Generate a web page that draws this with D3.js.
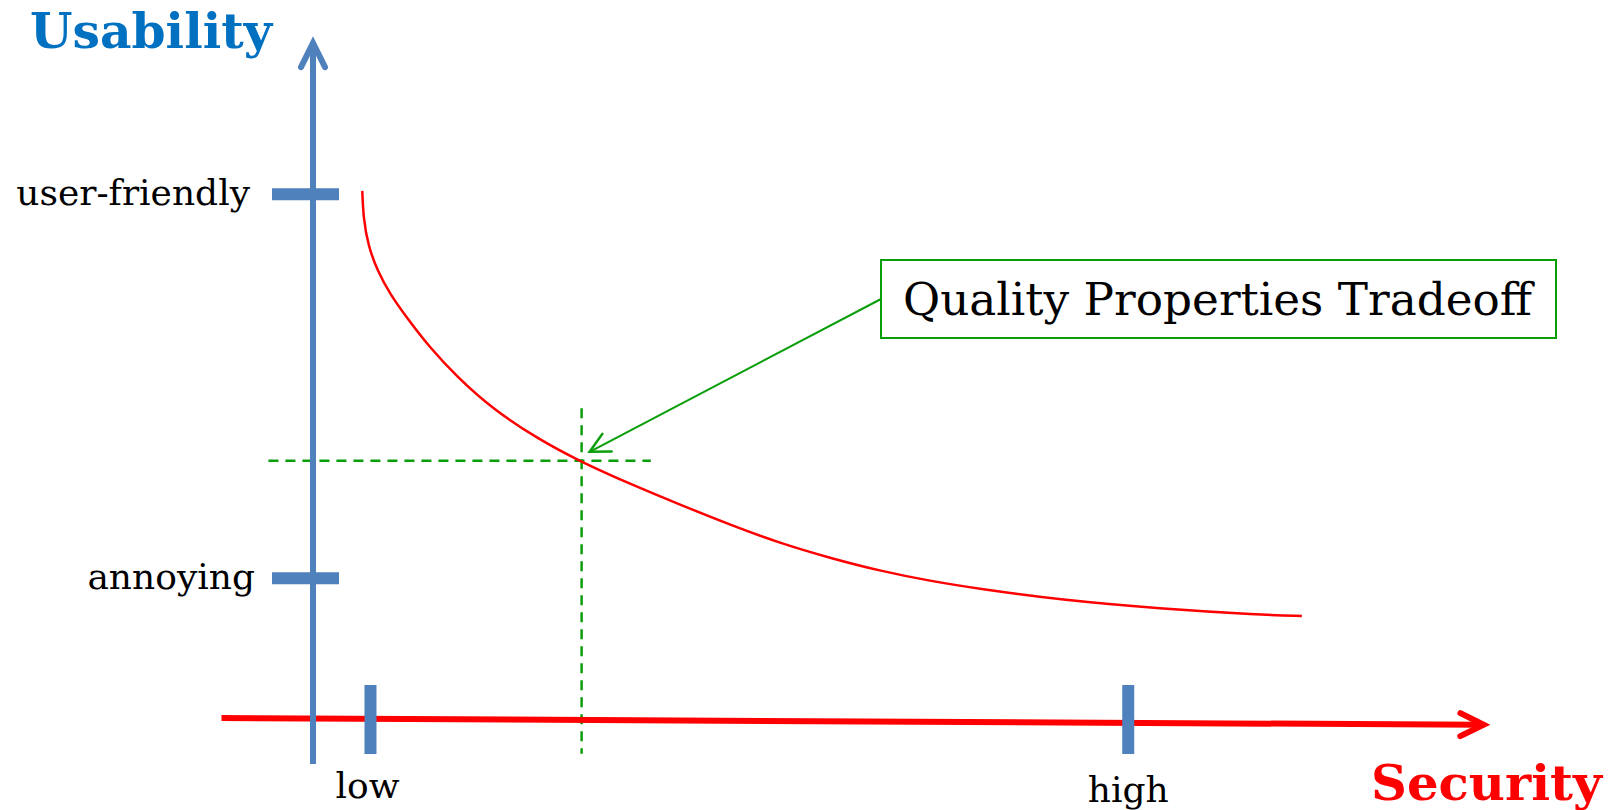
<!DOCTYPE html>
<html>
<head>
<meta charset="utf-8">
<script src="https://cdn.jsdelivr.net/npm/d3@7"></script>
<style>
  html, body { margin: 0; padding: 0; background: #ffffff; }
  svg { display: block; }
  text { font-family: "DejaVu Serif", serif; }
</style>
</head>
<body>
<svg id="chart" width="1608" height="810"></svg>
<script>
// Security (x) vs usability (y) tradeoff curve
const curveSecurity  = [0.42, 0.43, 0.47, 0.55, 0.66, 0.80, 0.99, 1.23, 1.53, 1.93, 2.29, 2.70, 3.13, 3.56, 3.98, 4.41, 4.83, 5.26, 5.69, 6.37, 7.22, 8.07, 8.43];
const curveUsability = [7.81, 7.40, 7.00, 6.62, 6.27, 5.93, 5.50, 5.05, 4.58, 4.12, 3.79, 3.47, 3.16, 2.86, 2.59, 2.37, 2.18, 2.03, 1.91, 1.75, 1.62, 1.53, 1.51];

// Named ticks on each axis
const usabilityTickLabels = ["user-friendly", "annoying"];
const usabilityTickValues = [7.76, 2.07];
const securityTickLabels  = ["low", "high"];
const securityTickValues  = [0.49, 6.95];

// Chosen operating point on the curve
const tradeoffPoint = [2.29, 3.81];
const tradeoffLabel = "Quality Properties Tradeoff";

// Axis extents (data units)
const usabilityAxisRange = [-0.68, 10];
const securityAxisStart  = [-0.78, 0];
const securityAxisEnd    = [9.98, -0.10];
const guideSecurityRange  = [-0.38, 2.88];
const guideUsabilityRange = [-0.53, 4.59];

const svg = d3.select("#chart");
const x = d3.scaleLinear().domain([0, 10]).range([313, 1486]);
const y = d3.scaleLinear().domain([0, 10]).range([718, 43]);

const BLUE = "#4F81BD";
const RED = "#FF0000";
const GREEN = "#0A9E0A";

// Dashed guides through the tradeoff point
svg.append("line")
  .attr("x1", x(guideSecurityRange[0])).attr("x2", x(guideSecurityRange[1]))
  .attr("y1", y(tradeoffPoint[1])).attr("y2", y(tradeoffPoint[1]))
  .attr("stroke", GREEN).attr("stroke-width", 2.5).attr("stroke-dasharray", "10,7");
svg.append("line")
  .attr("x1", x(tradeoffPoint[0])).attr("x2", x(tradeoffPoint[0]))
  .attr("y1", y(guideUsabilityRange[1])).attr("y2", y(guideUsabilityRange[0]))
  .attr("stroke", GREEN).attr("stroke-width", 2.5).attr("stroke-dasharray", "10,7");

// Security axis (red) with open arrowhead
const sx0 = x(securityAxisStart[0]), sy0 = y(securityAxisStart[1]);
const sx1 = x(securityAxisEnd[0]),   sy1 = y(securityAxisEnd[1]);
svg.append("line")
  .attr("x1", sx0).attr("y1", sy0).attr("x2", sx1 - 3).attr("y2", sy1)
  .attr("stroke", RED).attr("stroke-width", 6);

// Usability axis (blue) with open arrowhead
const ux = x(0), uyTop = y(usabilityAxisRange[1]), uyBot = y(usabilityAxisRange[0]);
svg.append("line")
  .attr("x1", ux).attr("x2", ux).attr("y1", uyTop + 3).attr("y2", uyBot)
  .attr("stroke", BLUE).attr("stroke-width", 6);

function chevron(tipX, tipY, dirX, dirY, len, spread, color, width) {
  const ang = Math.atan2(dirY, dirX);
  const a1 = ang + Math.PI - spread, a2 = ang + Math.PI + spread;
  const p = d3.path();
  p.moveTo(tipX + len * Math.cos(a1), tipY + len * Math.sin(a1));
  p.lineTo(tipX, tipY);
  p.lineTo(tipX + len * Math.cos(a2), tipY + len * Math.sin(a2));
  svg.append("path").attr("d", p.toString())
    .attr("fill", "none").attr("stroke", color).attr("stroke-width", width)
    .attr("stroke-linecap", "round").attr("stroke-linejoin", "miter");
}
chevron(sx1, sy1, sx1 - sx0, sy1 - sy0, 26, 0.46, RED, 6);
chevron(ux, uyTop, 0, -1, 27, 0.46, BLUE, 6);

// Usability ticks
svg.selectAll(".utick").data(usabilityTickValues).join("line")
  .attr("class", "utick")
  .attr("x1", ux - 41).attr("x2", ux + 26)
  .attr("y1", d => y(d)).attr("y2", d => y(d))
  .attr("stroke", BLUE).attr("stroke-width", 12);
svg.selectAll(".ulabel").data(usabilityTickLabels).join("text")
  .attr("class", "ulabel")
  .attr("x", (d, i) => ux - (i === 0 ? 63 : 58))
  .attr("y", (d, i) => y(usabilityTickValues[i]) + 10.5)
  .attr("text-anchor", "end")
  .attr("font-size", 36).attr("fill", "#000")
  .text(d => d);

// Security ticks
const axisYAt = sv => sy0 + (sy1 - sy0) * (x(sv) - sx0) / (sx1 - sx0);
svg.selectAll(".stick").data(securityTickValues).join("line")
  .attr("class", "stick")
  .attr("x1", d => x(d)).attr("x2", d => x(d))
  .attr("y1", 685).attr("y2", 754)
  .attr("stroke", BLUE).attr("stroke-width", 12);
svg.selectAll(".slabel").data(securityTickLabels).join("text")
  .attr("class", "slabel")
  .attr("x", (d, i) => x(securityTickValues[i]) - (i === 0 ? 3 : 0))
  .attr("y", (d, i) => axisYAt(securityTickValues[i]) + 79)
  .attr("text-anchor", "middle")
  .attr("font-size", 36).attr("fill", "#000")
  .text(d => d);

// Tradeoff curve
const curvePoints = curveSecurity.map((s, i) => [s, curveUsability[i]]);
svg.append("path")
  .datum(curvePoints)
  .attr("d", d3.line().x(d => x(d[0])).y(d => y(d[1])).curve(d3.curveBasis))
  .attr("fill", "none").attr("stroke", RED).attr("stroke-width", 2.5);

// Callout box and pointer
const box = { x: 881, y: 260, w: 675, h: 78 };
svg.append("rect")
  .attr("x", box.x).attr("y", box.y).attr("width", box.w).attr("height", box.h)
  .attr("fill", "#fff").attr("stroke", GREEN).attr("stroke-width", 2);
svg.append("text")
  .attr("x", box.x + 22).attr("y", box.y + 55)
  .attr("font-size", 45).attr("fill", "#000")
  .attr("textLength", 629).attr("lengthAdjust", "spacingAndGlyphs")
  .text(tradeoffLabel);

const tipX = x(tradeoffPoint[0]) + 8, tipY = y(tradeoffPoint[1]) - 9;
const startX = box.x, startY = box.y + box.h / 2;
svg.append("line")
  .attr("x1", startX).attr("y1", startY).attr("x2", tipX).attr("y2", tipY)
  .attr("stroke", GREEN).attr("stroke-width", 2);
chevron(tipX, tipY, tipX - startX, tipY - startY, 22, 0.47, GREEN, 2.5);

// Axis titles
svg.append("text")
  .attr("x", 30).attr("y", 48)
  .attr("font-size", 49).attr("font-weight", "bold").attr("fill", "#0070C0")
  .attr("textLength", 242).attr("lengthAdjust", "spacingAndGlyphs")
  .text("Usability");
svg.append("text")
  .attr("x", 1371).attr("y", 800)
  .attr("font-size", 48).attr("font-weight", "bold").attr("fill", RED)
  .attr("textLength", 231).attr("lengthAdjust", "spacingAndGlyphs")
  .text("Security");
</script>
</body>
</html>
